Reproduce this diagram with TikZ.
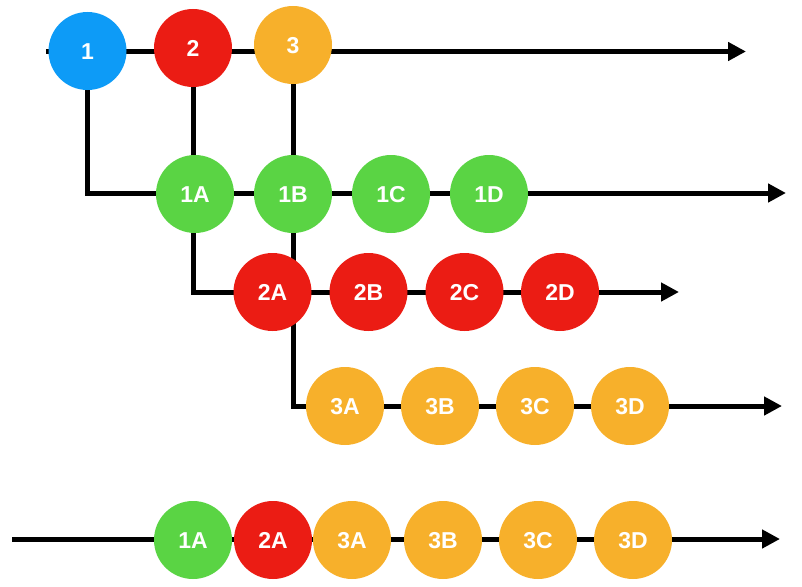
\documentclass[tikz,border=0pt]{standalone}
\usepackage{fontspec}
\setmainfont{Liberation Sans}
\usetikzlibrary{arrows.meta}
\usetikzlibrary{backgrounds}

\definecolor{ballblue}{RGB}{13,155,247}
\definecolor{ballred}{RGB}{235,28,20}
\definecolor{ballorange}{RGB}{247,176,43}
\definecolor{ballgreen}{RGB}{90,212,68}

\tikzset{
  ball/.style={circle, minimum size=78pt, inner sep=0pt, text=white,
    text height=16.5pt, text depth=0pt,
    font=\fontsize{23}{23}\selectfont\bfseries},
  stream/.style={black, line width=5pt},
  streamarrow/.style={stream, arrows=-{Triangle[length=18pt,width=18pt]}},
}

\begin{document}
\begin{tikzpicture}[x=1pt,y=-1pt]
          \useasboundingbox (0,0) rectangle (802,586);

          % source streams
          \node [ball, fill=ballblue] (s1) at (87.5,51) {1};
          \node [ball, fill=ballred] (s2) at (193,48) {2};
          \node [ball, fill=ballorange] (s3) at (293,45) {3};

          % inner streams
          \node [ball, fill=ballgreen] (a1) at (195,194) {1A};
          \node [ball, fill=ballgreen] (b1) at (293,194) {1B};
          \node [ball, fill=ballgreen] (c1) at (391,194) {1C};
          \node [ball, fill=ballgreen] (d1) at (489,194) {1D};

          \node [ball, fill=ballred] (a2) at (272.5,292) {2A};
          \node [ball, fill=ballred] (b2) at (368.5,292) {2B};
          \node [ball, fill=ballred] (c2) at (464.5,292) {2C};
          \node [ball, fill=ballred] (d2) at (560,292) {2D};

          \node [ball, fill=ballorange] (a3) at (345,406) {3A};
          \node [ball, fill=ballorange] (b3) at (440,406) {3B};
          \node [ball, fill=ballorange] (c3) at (535,406) {3C};
          \node [ball, fill=ballorange] (d3) at (630,406) {3D};

          % merged output
          \node [ball, fill=ballgreen] (m1) at (193,540) {1A};
          \node [ball, fill=ballred] (m2) at (273,540) {2A};
          \node [ball, fill=ballorange] (m3) at (352,540) {3A};
          \node [ball, fill=ballorange] (m4) at (443,540) {3B};
          \node [ball, fill=ballorange] (m5) at (538,540) {3C};
          \node [ball, fill=ballorange] (m6) at (633,540) {3D};

          \coordinate (top start) at (46,51.5);
          \coordinate (top end) at (746,51.5);
          \coordinate (one end) at (786,193);
          \coordinate (two end) at (679,292);
          \coordinate (three end) at (782,406);
          \coordinate (out start) at (12,539);
          \coordinate (out end) at (780,539);

          \begin{scope}[on background layer]
            \draw [streamarrow] (top start) -- (top end); % Draws the outer stream
            \draw [streamarrow] (s1.center) |- (one end);
            \draw [streamarrow] (s2.center) |- (two end);
            \draw [streamarrow] (s3.center) |- (three end);
            \draw [streamarrow] (out start) -- (out end); % Draws the result
          \end{scope}
        \end{tikzpicture}
\end{document}
